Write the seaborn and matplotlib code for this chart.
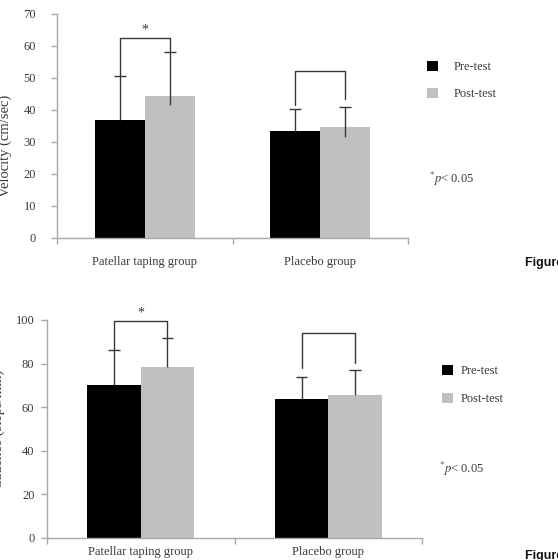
import numpy as np
import pandas as pd
import seaborn as sns
import matplotlib
matplotlib.use("Agg")
import matplotlib.pyplot as plt

# ------------------------------------------------------------------
groups = ["Patellar taping group", "Placebo group"]
tests = ["Pre-test", "Post-test"]

# velocity (cm/sec)
vel_pre = [37.0, 33.5]
vel_pre_sd = [13.7, 6.8]
vel_post = [44.5, 34.8]
vel_post_sd = [13.5, 6.1]
vel_post_below = [3.0, 3.2]
vel_bracket = [62.4, 52.2]
vel_bracket_left = [50.7, 41.6]
vel_bracket_right = [58.0, 43.4]

# cadence (steps/min)
cad_pre = [70.0, 63.8]
cad_pre_sd = [16.2, 10.1]
cad_post = [78.4, 65.6]
cad_post_sd = [13.2, 11.5]
cad_post_below = [0.0, 0.0]
cad_bracket = [99.4, 93.9]
cad_bracket_left = [86.2, 78.0]
cad_bracket_right = [91.6, 80.3]

signif = ["*", ""]
# ------------------------------------------------------------------

sns.set_style("white")
plt.rcParams["font.family"] = ["Liberation Serif", "DejaVu Serif"]
plt.rcParams["mathtext.fontset"] = "stix"

W, H = 558, 560
fig = plt.figure(figsize=(W / 100, H / 100), dpi=100)

axis_col = "#a8a8a8"
text_col = "#3a3a3a"
line_col = "#383838"
pal = {"Pre-test": "#000000", "Post-test": "#c0c0c0"}


def px_box(x0, y_top, x1, y_bot):
    return [x0 / W, 1 - y_bot / H, (x1 - x0) / W, (y_bot - y_top) / H]


def draw_panel(ax, pre, pre_sd, post, post_sd, post_below, br, br_l, br_r,
               ymax, ystep, ylabel, tickpad, xpad, lab_xy, leg_xy, leg_pad,
               leg_space, p_xy, cap):
    df = pd.DataFrame({
        "group": groups * 2,
        "test": [tests[0]] * 2 + [tests[1]] * 2,
        "value": pre + post,
    })
    sns.barplot(data=df, x="group", y="value", hue="test", hue_order=tests,
                palette=pal, width=0.57, gap=0, errorbar=None, saturation=1,
                linewidth=0, ax=ax)

    # bar centres from the patches seaborn drew
    bars = [p for p in ax.patches if p.get_height() > 0]
    xs = sorted([(p.get_x() + p.get_width() / 2, p.get_facecolor()[0]) for p in bars])
    pre_x = [x for x, c in xs if c < 0.5]
    post_x = [x for x, c in xs if c >= 0.5]

    for i in range(2):
        # upward error bars with a single cap
        top = pre[i] + pre_sd[i]
        ax.vlines(pre_x[i], pre[i], top, color=line_col, lw=1, zorder=3)
        ax.hlines(top, pre_x[i] - cap, pre_x[i] + cap, color=line_col, lw=1, zorder=3)
        top = post[i] + post_sd[i]
        ax.vlines(post_x[i], post[i] - post_below[i], top, color=line_col, lw=1, zorder=3)
        ax.hlines(top, post_x[i] - cap, post_x[i] + cap, color=line_col, lw=1, zorder=3)
        # bracket
        ax.plot([pre_x[i], pre_x[i], post_x[i], post_x[i]],
                [br_l[i], br[i], br[i], br_r[i]], color=line_col, lw=1, zorder=3)
        if signif[i]:
            ax.text((pre_x[i] + post_x[i]) / 2, br[i] + ymax * 0.01, signif[i],
                    ha="center", va="bottom", fontsize=10, color=text_col)

    ax.set_xlim(-0.5, 1.5)
    ax.set_ylim(0, ymax)
    ax.set_yticks(np.arange(0, ymax + 1, ystep))
    ax.set_xticks([-0.5, 0.5, 1.5], minor=False)
    ax.set_xticks([0, 1], minor=True)
    ax.set_xticklabels(["", "", ""])
    ax.set_xticklabels(groups, minor=True)
    ax.tick_params(axis="x", which="major", direction="out", length=4, width=1,
                   color=axis_col, bottom=True)
    ax.tick_params(axis="x", which="minor", length=0, pad=xpad,
                   labelsize=9, labelcolor=text_col)
    ax.tick_params(axis="y", direction="out", length=4, width=1, color=axis_col,
                   left=True, pad=tickpad, labelsize=9, labelcolor=text_col)
    ax.set_xlabel("")
    ax.set_ylabel(ylabel, fontsize=10.5, color=text_col)
    ax.yaxis.set_label_coords(*lab_xy)
    for s in ["top", "right"]:
        ax.spines[s].set_visible(False)
    for s in ["left", "bottom"]:
        ax.spines[s].set_color(axis_col)
        ax.spines[s].set_linewidth(1)

    handles, labels = ax.get_legend_handles_labels()
    ax.legend(handles, labels, loc="upper left", bbox_to_anchor=leg_xy,
              bbox_transform=fig.transFigure, frameon=False, fontsize=9,
              handlelength=0.85, handleheight=0.85, handletextpad=leg_pad,
              labelspacing=leg_space, borderpad=0, borderaxespad=0,
              labelcolor=text_col)

    fig.text(p_xy[0], p_xy[1], r"$^{*}p$< 0.05", fontsize=9, color=text_col,
             ha="left", va="center")


ax1 = fig.add_axes(px_box(57, 14, 408, 238))
draw_panel(ax1, vel_pre, vel_pre_sd, vel_post, vel_post_sd, vel_post_below,
           vel_bracket, vel_bracket_left, vel_bracket_right,
           70, 10, "Velocity (cm/sec)", 11, 13, (-0.128, 0.41),
           (427 / W, 1 - 61 / H), 1.25, 1.15, (429 / W, 1 - 179 / H), 0.034)

ax2 = fig.add_axes(px_box(47, 320, 422, 538))
draw_panel(ax2, cad_pre, cad_pre_sd, cad_post, cad_post_sd, cad_post_below,
           cad_bracket, cad_bracket_left, cad_bracket_right,
           100, 20, "Cadence (steps/min)", 5, 6, (-0.112, 0.5),
           (442 / W, 1 - 365 / H), 0.65, 1.25, (439 / W, 1 - 469 / H), 0.03)

fig.text(525 / W, 1 - 263 / H, "Figure 1", fontsize=9, fontweight="bold",
         family="Liberation Sans", ha="left", va="center", color="#111111")
fig.text(525 / W, 1 - 556 / H, "Figure 2", fontsize=9, fontweight="bold",
         family="Liberation Sans", ha="left", va="center", color="#111111")

fig.savefig("out.png", dpi=100)
